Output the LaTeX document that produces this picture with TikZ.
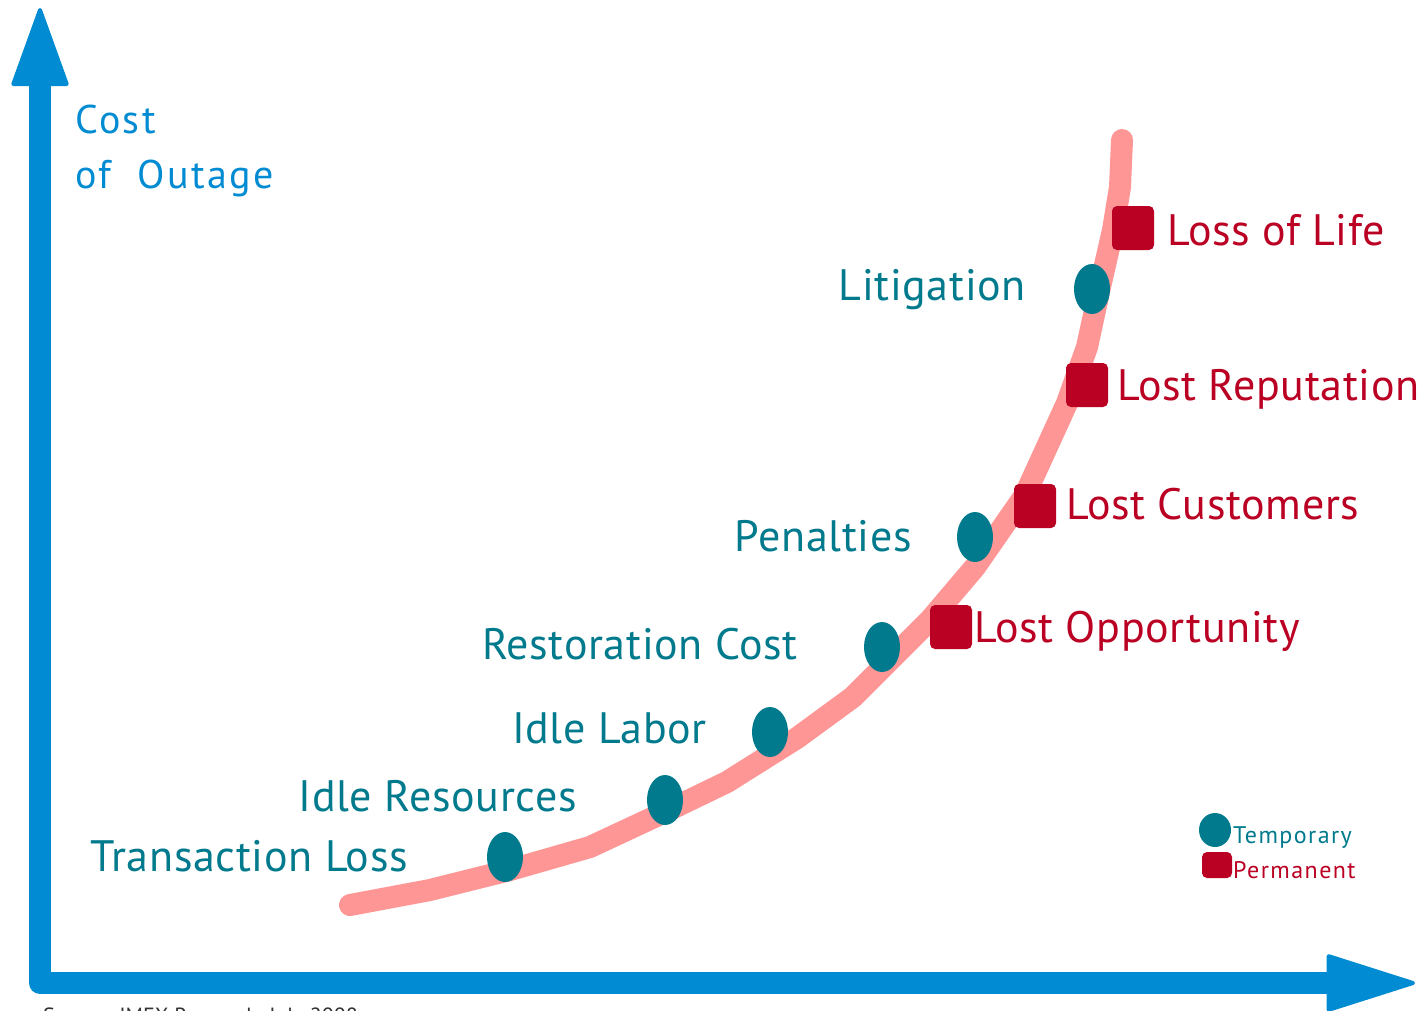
\documentclass[tikz,border=0pt]{standalone}
\usepackage{fontspec}
\setmainfont{PT Sans}
\newfontfamily\lblfont[LetterSpace=1.5]{PT Sans}
\newfontfamily\legfont[LetterSpace=6]{PT Sans}
\usetikzlibrary{arrows.meta,shapes.geometric}
\definecolor{axisblue}{RGB}{0,139,210}
\definecolor{tempteal}{RGB}{0,122,140}
\definecolor{permred}{RGB}{186,0,35}
\definecolor{curvepink}{RGB}{255,150,150}
\tikzset{
  axis/.style={axisblue, line width=22pt, line join=round},
  costcurve/.style={curvepink, line width=22pt, line cap=round, line join=round},
  tempdot/.style={ellipse, fill=tempteal, minimum width=36pt, minimum height=50pt, inner sep=0pt},
  permbox/.style={rectangle, rounded corners=5pt, fill=permred, minimum width=42pt, minimum height=44pt, inner sep=0pt},
  templbl/.style={text=tempteal, font=\lblfont\fontsize{44}{50}\selectfont, inner sep=0pt, anchor=base east},
  permlbl/.style={text=permred, font=\lblfont\fontsize{44}{50}\selectfont, inner sep=0pt, anchor=base west},
  axislbl/.style={text=axisblue, font=\legfont\fontsize{40}{46}\selectfont, inner sep=0pt, anchor=base west},
  leglbl/.style={font=\legfont\fontsize{24}{28}\selectfont, inner sep=0pt, anchor=base west},
}
\begin{document}
\begin{tikzpicture}[x=1pt,y=-1pt]
\useasboundingbox (0,0) rectangle (1420,1010);
% axes
\draw[axis, {Triangle[length=82pt,width=58pt,line width=4pt,round]}-{Triangle[length=93pt,width=58pt,line width=4pt,round]}]
  (40,8) -- (40,983) -- (1415,983);
\node[axislbl] (ylabelA) at (75,133) {Cost};
\node[axislbl] (ylabelB) at (75,188) {of\ \ Outage};
\node[text=black!80, font=\fontsize{22}{26}\selectfont, anchor=base west, inner sep=0pt] (source) at (43,1023) {Source: IMEX Research, July 2008};
% cost curve
\draw[costcurve] plot coordinates {(350,905) (430,890) (510,870) (590,847) (665,812) (727,782) (797,738) (853,697) (930,620) (975,567) (1025,495) (1067,403) (1087,347) (1100,287) (1113,230) (1120,187) (1122,140)};
% temporary losses
\node[tempdot] (dTrans) at (505,857) {};
\node[tempdot] (dIdleRes) at (665,800) {};
\node[tempdot] (dIdleLab) at (770,732) {};
\node[tempdot] (dRestore) at (882,647) {};
\node[tempdot] (dPenalty) at (975,537) {};
\node[tempdot] (dLitig) at (1092,289) {};
\node[templbl] (tTrans) at (408,871) {Transaction Loss};
\node[templbl] (tIdleRes) at (577,811) {Idle Resources};
\node[templbl] (tIdleLab) at (707,743) {Idle Labor};
\node[templbl] (tRestore) at (798,659) {Restoration Cost};
\node[templbl] (tPenalty) at (912,551) {Penalties};
\node[templbl] (tLitig) at (1026,300) {Litigation};
% permanent losses
\node[permbox] (bOpport) at (951,627) {};
\node[permbox] (bCustom) at (1035,506) {};
\node[permbox] (bReput) at (1087,385) {};
\node[permbox] (bLife) at (1133,228) {};
\node[permlbl] (tOpport) at (974,642) {Lost Opportunity};
\node[permlbl] (tCustom) at (1066,519) {Lost Customers};
\node[permlbl] (tReput) at (1117,400) {Lost Reputation};
\node[permlbl] (tLife) at (1167,245) {Loss of Life};
% legend
\node[tempdot, minimum width=32pt, minimum height=34pt] (legTemp) at (1215,830) {};
\node[permbox, minimum width=30pt, minimum height=26pt] (legPerm) at (1217,865) {};
\node[leglbl, text=tempteal] (legTempText) at (1233,843) {Temporary};
\node[leglbl, text=permred] (legPermText) at (1233,878) {Permanent};
\end{tikzpicture}
\end{document}
